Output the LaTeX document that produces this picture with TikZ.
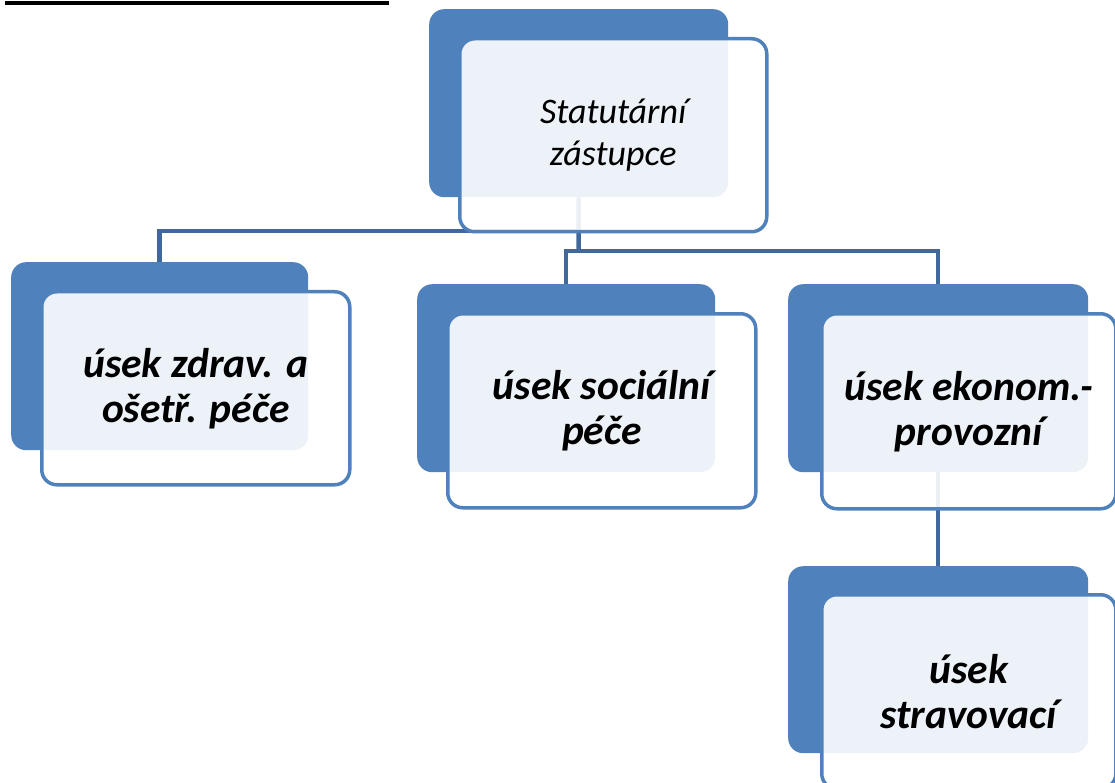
\documentclass[tikz,border=0pt]{standalone}
\usepackage{fontspec}
\setmainfont{Carlito}
\definecolor{boxblue}{HTML}{4F81BD}
\definecolor{linkblue}{HTML}{41689B}
\begin{document}
\begin{tikzpicture}[x=1pt,y=-1pt,
  back/.style={draw=none,fill=boxblue,rounded corners=15pt,inner sep=0pt,anchor=north west},
  front/.style={draw=boxblue,line width=3.5pt,fill=white,fill opacity=0.9,text opacity=1,
     rounded corners=15pt,inner sep=0pt,anchor=north west,align=center,text=black},
  childfont/.style={font=\fontsize{41.5}{45}\selectfont\bfseries\itshape},
  link/.style={draw=linkblue,line width=4.5pt}]
\useasboundingbox (0,0) rectangle (1115,783);
\clip (0,0) rectangle (1115,783);
\fill[black] (5,1) rectangle (389,5);
% back rectangles
\node[back,minimum width=299pt,minimum height=188pt] (topB) at (429,9) {};
\node[back,minimum width=297pt,minimum height=188pt] (leftB) at (11,262) {};
\node[back,minimum width=298pt,minimum height=188pt] (midB) at (417,284) {};
\node[back,minimum width=300pt,minimum height=188pt] (rightB) at (788,284) {};
\node[back,minimum width=300pt,minimum height=187pt] (botB) at (788,566) {};
% connectors
\coordinate (j1) at (578.5,231);
\coordinate (j2) at (578.5,251);
\draw[link] (topB.south) -- (j2);
\draw[link] (j1) -| (leftB.north);
\draw[link] (j2) -| (midB.north);
\draw[link] (j2) -| (rightB.north);
\draw[link] (rightB.south) -- (botB.north);
% front rectangles
\node[front,minimum width=307pt,minimum height=193pt,font=\fontsize{36}{42}\selectfont\itshape] (topF) at (458,37) {Statutární\\zástupce};
\node[front,childfont,minimum width=308pt,minimum height=193pt] (leftF) at (40,290) {úsek zdrav. a\\ošetř. péče};
\node[front,childfont,minimum width=308pt,minimum height=194pt] (midF) at (446,312) {úsek sociální\\péče};
\node[front,childfont,minimum width=294pt,minimum height=195pt] (rightF) at (820,312) {úsek ekonom.-\\provozní};
\node[front,childfont,minimum width=294pt,minimum height=194pt] (botF) at (820,593) {úsek\\stravovací};
\end{tikzpicture}
\end{document}
